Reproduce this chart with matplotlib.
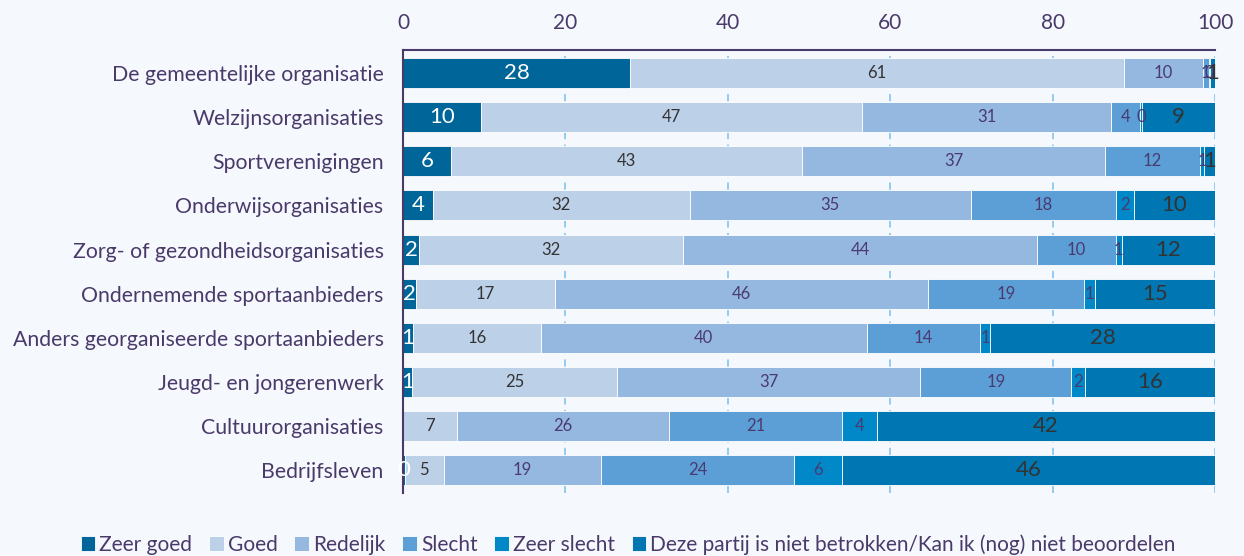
import numpy as np
import matplotlib.pyplot as plt

plt.rcParams['font.family'] = ['Lato', 'DejaVu Sans']

categories = ['De gemeentelijke organisatie', 'Welzijnsorganisaties', 'Sportverenigingen',
              'Onderwijsorganisaties', 'Zorg- of gezondheidsorganisaties',
              'Ondernemende sportaanbieders', 'Anders georganiseerde sportaanbieders',
              'Jeugd- en jongerenwerk', 'Cultuurorganisaties', 'Bedrijfsleven']
series = ['Zeer goed', 'Goed', 'Redelijk', 'Slecht', 'Zeer slecht',
          'Deze partij is niet betrokken/Kan ik (nog) niet beoordelen']

zeer_goed   = [28.0, 9.6, 5.9, 3.7, 2.0, 1.6, 1.2, 1.1, 0.0, 0.2]
goed        = [60.8, 46.9, 43.2, 31.6, 32.5, 17.1, 15.8, 25.3, 6.6, 4.8]
redelijk    = [9.7, 30.7, 37.4, 34.6, 43.6, 46.0, 40.1, 37.3, 26.2, 19.4]
slecht      = [0.7, 3.6, 11.6, 17.9, 9.7, 19.2, 14.0, 18.6, 21.2, 23.7]
zeer_slecht = [0.2, 0.2, 0.6, 2.2, 0.7, 1.3, 1.2, 1.7, 4.4, 5.9]
niet        = [0.6, 9.0, 1.3, 10.0, 11.5, 14.8, 27.7, 16.0, 41.6, 46.0]

values = [zeer_goed, goed, redelijk, slecht, zeer_slecht, niet]
colors = ['#006699', '#bcd0e8', '#95b8e0', '#5b9fd6', '#0088c8', '#0077b3']
label_colors = ['white', '#333333', '#4a3a70', '#4a3a70', '#4a3a70', '#333333']
label_sizes = [16, 12, 12, 12, 12, 16]

purple = '#4a3a6a'
bg = '#f5f8fd'

fig = plt.figure(figsize=(12.44, 5.56), dpi=100, facecolor=bg)
ax = fig.add_axes([0.324, 0.113, 0.6527, 0.797], facecolor=bg)

y = np.arange(len(categories))
left = np.zeros(len(categories))
for vals, col, lc, ls, name in zip(values, colors, label_colors, label_sizes, series):
    vals = np.array(vals)
    ax.barh(y, vals, left=left, height=0.68, color=col, edgecolor='white',
            linewidth=0.6, label=name, zorder=2)
    for i, v in enumerate(vals):
        if name == 'Zeer goed' and v == 0:
            continue
        ax.text(left[i] + v / 2, y[i], f'{v:.0f}', ha='center', va='center',
                color=lc, fontsize=ls, zorder=3)
    left += vals

ax.set_xlim(0, 100)
ax.set_ylim(9.52, -0.52)
ax.set_yticks(y)
ax.set_yticklabels(categories, fontsize=15.3, color=purple)
ax.set_xticks([0, 20, 40, 60, 80, 100])
ax.xaxis.tick_top()
ax.tick_params(axis='x', labelsize=15, labelcolor=purple, length=0, pad=12)
ax.tick_params(axis='y', length=0, pad=14)
ax.grid(axis='x', color='#8cc8f0', linestyle=(0, (4, 3)), linewidth=1.3, zorder=1)
for s in ['right', 'bottom']:
    ax.spines[s].set_visible(False)
for s in ['left', 'top']:
    ax.spines[s].set_color(purple)
    ax.spines[s].set_linewidth(1.5)

fig.legend(loc='lower center', bbox_to_anchor=(0.505, -0.032), ncol=6, frameon=False,
           fontsize=15, handlelength=0.7, handleheight=0.7, handletextpad=0.2,
           columnspacing=0.8, labelcolor=purple)

fig.savefig('out.png', dpi=100, facecolor=bg)
